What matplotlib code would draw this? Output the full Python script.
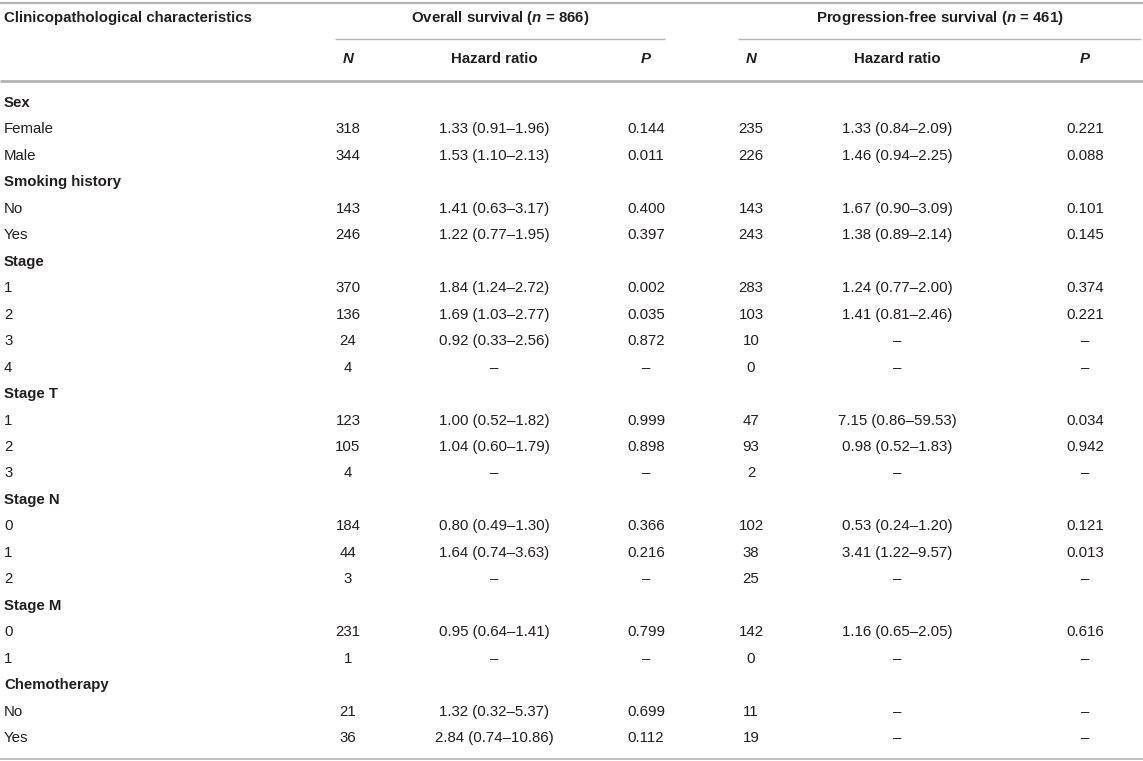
import matplotlib.pyplot as plt

plt.rcParams['font.family'] = ['Liberation Sans', 'DejaVu Sans']
plt.rcParams['mathtext.fontset'] = 'custom'
plt.rcParams['mathtext.it'] = 'Liberation Sans:italic:bold'
plt.rcParams['mathtext.rm'] = 'Liberation Sans:bold'

# table data
labels = ['Sex', 'Female', 'Male', 'Smoking history', 'No', 'Yes',
          'Stage', '1', '2', '3', '4',
          'Stage T', '1', '2', '3',
          'Stage N', '0', '1', '2',
          'Stage M', '0', '1',
          'Chemotherapy', 'No', 'Yes']
groups = ['Sex', 'Smoking history', 'Stage', 'Stage T', 'Stage N', 'Stage M', 'Chemotherapy']

os_n = ['', '318', '344', '', '143', '246', '', '370', '136', '24', '4',
        '', '123', '105', '4', '', '184', '44', '3', '', '231', '1', '', '21', '36']
os_hr = ['', '1.33 (0.91–1.96)', '1.53 (1.10–2.13)', '', '1.41 (0.63–3.17)', '1.22 (0.77–1.95)',
         '', '1.84 (1.24–2.72)', '1.69 (1.03–2.77)', '0.92 (0.33–2.56)', '–',
         '', '1.00 (0.52–1.82)', '1.04 (0.60–1.79)', '–',
         '', '0.80 (0.49–1.30)', '1.64 (0.74–3.63)', '–',
         '', '0.95 (0.64–1.41)', '–',
         '', '1.32 (0.32–5.37)', '2.84 (0.74–10.86)']
os_p = ['', '0.144', '0.011', '', '0.400', '0.397', '', '0.002', '0.035', '0.872', '–',
        '', '0.999', '0.898', '–', '', '0.366', '0.216', '–', '', '0.799', '–', '', '0.699', '0.112']

pfs_n = ['', '235', '226', '', '143', '243', '', '283', '103', '10', '0',
         '', '47', '93', '2', '', '102', '38', '25', '', '142', '0', '', '11', '19']
pfs_hr = ['', '1.33 (0.84–2.09)', '1.46 (0.94–2.25)', '', '1.67 (0.90–3.09)', '1.38 (0.89–2.14)',
          '', '1.24 (0.77–2.00)', '1.41 (0.81–2.46)', '–', '–',
          '', '7.15 (0.86–59.53)', '0.98 (0.52–1.83)', '–',
          '', '0.53 (0.24–1.20)', '3.41 (1.22–9.57)', '–',
          '', '1.16 (0.65–2.05)', '–',
          '', '–', '–']
pfs_p = ['', '0.221', '0.088', '', '0.101', '0.145', '', '0.374', '0.221', '–', '–',
         '', '0.034', '0.942', '–', '', '0.121', '0.013', '–', '', '0.616', '–', '', '–', '–']

W, H = 1143, 761
fig = plt.figure(figsize=(W / 100, H / 100), dpi=100)
ax = fig.add_axes([0, 0, 1, 1])
ax.set_xlim(0, W)
ax.set_ylim(H, 0)
ax.axis('off')

txt = '#231f20'
line_c = '#b4b4b4'
fs = 10.8

# column centres
col_x = [348, 494, 646, 751, 897, 1085]
columns = [os_n, os_hr, os_p, pfs_n, pfs_hr, pfs_p]

# rules
ax.hlines(3, 0, W, color=line_c, lw=1.6)
ax.hlines(39, 335, 665, color=line_c, lw=1.0)
ax.hlines(39, 738, W - 2, color=line_c, lw=1.0)
ax.hlines(81, 0, W, color=line_c, lw=2.0)
ax.hlines(759, 0, W, color=line_c, lw=1.2)

# headers
ax.text(4, 18, 'Clinicopathological characteristics', fontsize=fs, fontweight='bold',
        color=txt, va='center', ha='left')
ax.text(500, 18, 'Overall survival ($n$ = 866)', fontsize=fs, fontweight='bold',
        color=txt, va='center', ha='center')
ax.text(940, 18, 'Progression-free survival ($n$ = 461)', fontsize=fs, fontweight='bold',
        color=txt, va='center', ha='center')
for x, h in zip(col_x, ['N', 'Hazard ratio', 'P', 'N', 'Hazard ratio', 'P']):
    style = 'normal' if h == 'Hazard ratio' else 'italic'
    ax.text(x, 59, h, fontsize=fs, fontweight='bold', fontstyle=style,
            color=txt, va='center', ha='center')

# body
y0, dy = 103, 26.46
for i, lab in enumerate(labels):
    y = y0 + i * dy
    bold = lab in groups and os_n[i] == ''
    ax.text(4, y, lab, fontsize=fs, fontweight='bold' if bold else 'normal',
            color=txt, va='center', ha='left')
    for x, col in zip(col_x, columns):
        if col[i]:
            ax.text(x, y, col[i], fontsize=fs, color=txt, va='center', ha='center')

fig.savefig('out.png', dpi=100)
